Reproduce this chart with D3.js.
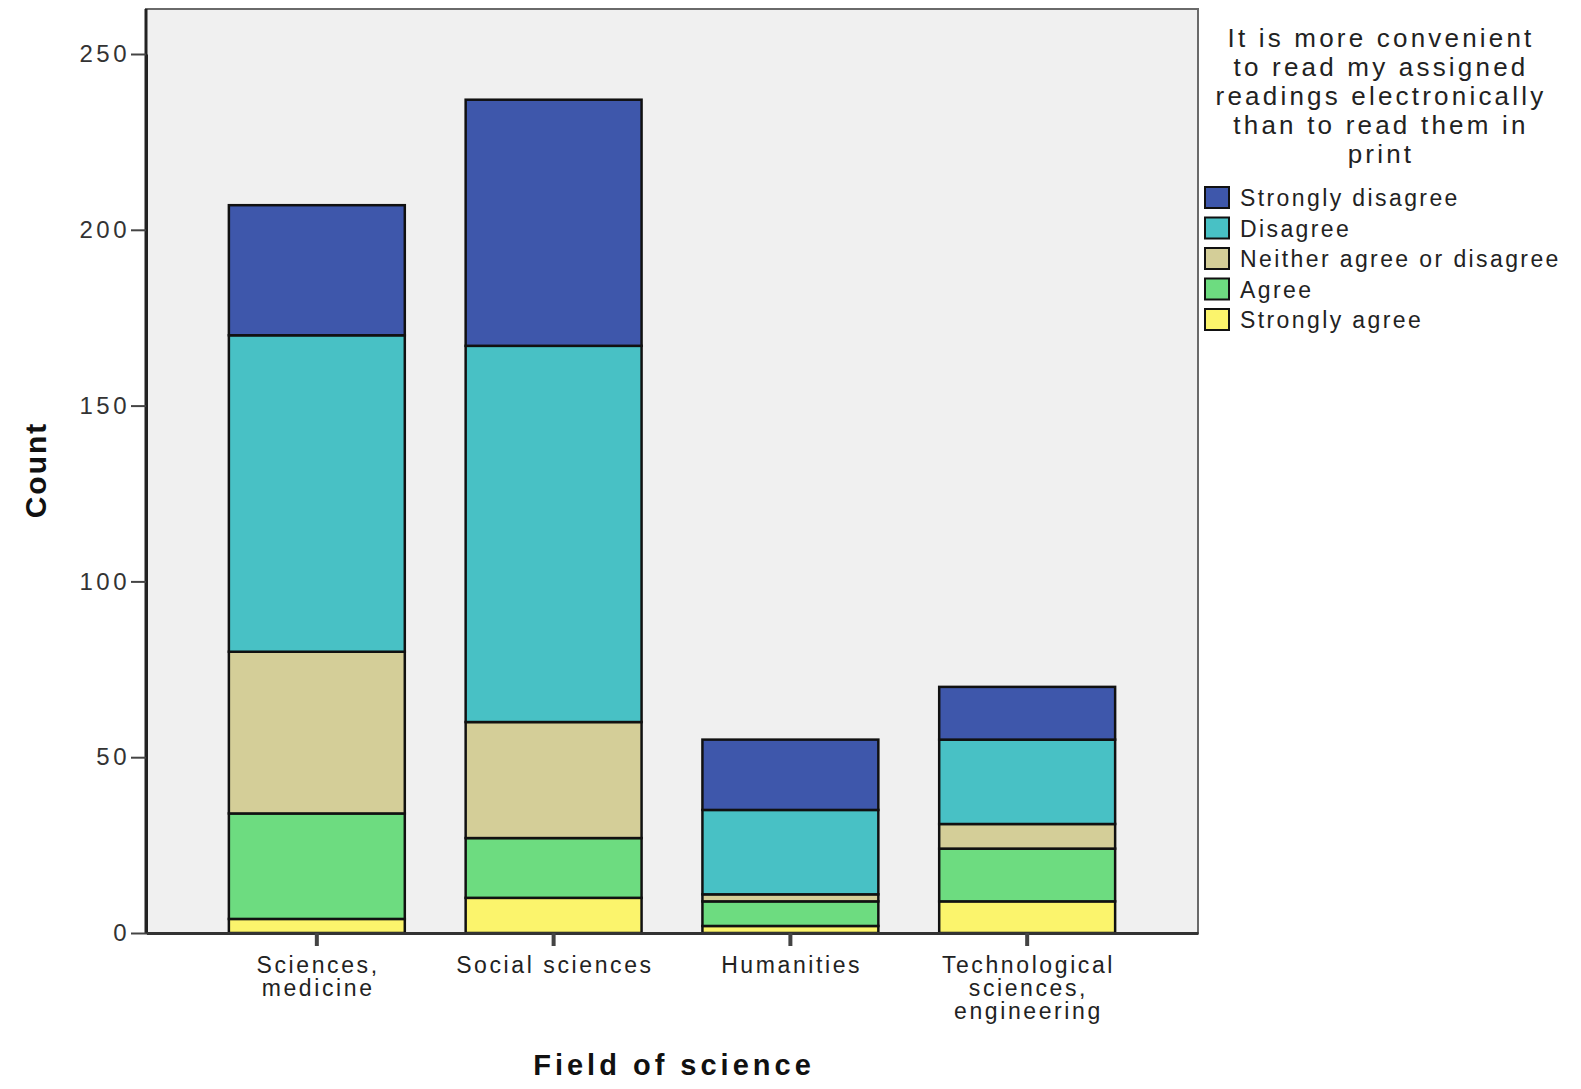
<!DOCTYPE html>
<html>
<head>
<meta charset="utf-8">
<script src="https://cdn.jsdelivr.net/npm/d3@7"></script>
<style>
  body { margin: 0; background: #fff; }
  text { font-family: "Liberation Sans", Arial, sans-serif; }
</style>
</head>
<body>
<div id="chart"></div>
<script>
// Data
var fields = ["Sciences, medicine", "Social sciences", "Humanities", "Technological sciences, engineering"];
var fieldLines = [["Sciences,", "medicine"], ["Social sciences"], ["Humanities"], ["Technological", "sciences,", "engineering"]];
var responses = ["Strongly agree", "Agree", "Neither agree or disagree", "Disagree", "Strongly disagree"];
var stronglyAgree = [4, 10, 2, 9];
var agree = [30, 17, 7, 15];
var neither = [46, 33, 2, 7];
var disagree = [90, 107, 24, 24];
var stronglyDisagree = [37, 70, 20, 15];
var yTicks = [0, 50, 100, 150, 200, 250];
var legendTitle = ["It is more convenient", "to read my assigned", "readings electronically", "than to read them in", "print"];
var legendOrder = ["Strongly disagree", "Disagree", "Neither agree or disagree", "Agree", "Strongly agree"];

var colors = {
  "Strongly agree": "#fbf46c",
  "Agree": "#6ddc80",
  "Neither agree or disagree": "#d4ce98",
  "Disagree": "#48c1c5",
  "Strongly disagree": "#3e57ab"
};

var svgWidth = 1581;
var svgHeight = 1089;

// plot frame
var frame = { left: 146, right: 1198, top: 9, bottom: 933 };

var svg = d3.select("#chart")
  .append("svg")
  .attr("width", svgWidth)
  .attr("height", svgHeight);

// build rows for stacking
var rows = fields.map(function(f, i) {
  return {
    field: f,
    "Strongly agree": stronglyAgree[i],
    "Agree": agree[i],
    "Neither agree or disagree": neither[i],
    "Disagree": disagree[i],
    "Strongly disagree": stronglyDisagree[i]
  };
});

var stacked = d3.stack().keys(responses)(rows);

// scales
var x = d3.scaleBand()
  .domain(fields)
  .range([frame.left, frame.right])
  .paddingInner(0.257)
  .paddingOuter(0.35);

var y = d3.scaleLinear()
  .domain([0, 250])
  .range([frame.bottom, 54]);

// plot background with gray top/right border
svg.append("rect")
  .attr("x", frame.left)
  .attr("y", frame.top)
  .attr("width", frame.right - frame.left)
  .attr("height", frame.bottom - frame.top)
  .attr("fill", "#f0f0f0")
  .attr("stroke", "#6a6a6a")
  .attr("stroke-width", 2);

// dark left edge up to the top of the frame
svg.append("line")
  .attr("x1", frame.left).attr("x2", frame.left)
  .attr("y1", frame.top).attr("y2", frame.bottom)
  .attr("stroke", "#222")
  .attr("stroke-width", 3);

// bars
svg.append("g")
  .selectAll("g")
  .data(stacked)
  .enter()
  .append("g")
  .attr("fill", d => colors[d.key])
  .selectAll("rect")
  .data(d => d)
  .enter()
  .append("rect")
  .attr("x", d => x(d.data.field))
  .attr("width", x.bandwidth())
  .attr("y", d => y(d[1]))
  .attr("height", d => y(d[0]) - y(d[1]))
  .attr("stroke", "#111")
  .attr("stroke-width", 2.5);

// y axis
var leftAxis = d3.axisLeft(y)
  .tickValues(yTicks)
  .tickSize(15)
  .tickSizeOuter(0)
  .tickPadding(1);

var yAxis = svg.append("g")
  .attr("transform", `translate(${frame.left}, 0)`)
  .call(leftAxis);
yAxis.select(".domain").attr("stroke", "#222").attr("stroke-width", 3);
yAxis.selectAll(".tick line").attr("stroke", "#444").attr("stroke-width", 2);
yAxis.selectAll(".tick text")
  .attr("font-size", 24)
  .attr("fill", "#333")
  .attr("letter-spacing", 3.5)
  .attr("font-family", "Liberation Sans, Arial, sans-serif");

// x axis
var bottomAxis = d3.axisBottom(x)
  .tickSize(13)
  .tickSizeOuter(0)
  .tickFormat("");

var xAxis = svg.append("g")
  .attr("transform", `translate(0, ${frame.bottom})`)
  .call(bottomAxis);
xAxis.select(".domain").attr("stroke", "#333").attr("stroke-width", 3);
xAxis.selectAll(".tick line").attr("stroke", "#444").attr("stroke-width", 4);

// category labels (multi-line)
svg.append("g")
  .selectAll("text")
  .data(fields)
  .enter()
  .append("text")
  .attr("x", d => x(d) + x.bandwidth() / 2 + 1.3)
  .attr("y", 973)
  .attr("text-anchor", "middle")
  .attr("font-size", 23)
  .attr("fill", "#222")
  .attr("letter-spacing", 2.6)
  .selectAll("tspan")
  .data((d, i) => fieldLines[i])
  .enter()
  .append("tspan")
  .attr("x", function() { return this.parentNode.getAttribute("x"); })
  .attr("dy", (d, i) => i === 0 ? 0 : 23)
  .text(d => d);

// axis titles
svg.append("text")
  .attr("transform", `translate(46, 470) rotate(-90)`)
  .attr("text-anchor", "middle")
  .attr("font-size", 30)
  .attr("font-weight", "bold")
  .attr("letter-spacing", 2)
  .attr("fill", "#111")
  .text("Count");

svg.append("text")
  .attr("x", 674)
  .attr("y", 1075)
  .attr("text-anchor", "middle")
  .attr("font-size", 29)
  .attr("font-weight", "bold")
  .attr("letter-spacing", 4)
  .attr("fill", "#111")
  .text("Field of science");

// legend
var legend = svg.append("g");

legend.selectAll("text.title")
  .data(legendTitle)
  .enter()
  .append("text")
  .attr("class", "title")
  .attr("x", 1381)
  .attr("y", (d, i) => 47 + i * 29)
  .attr("text-anchor", "middle")
  .attr("font-size", 26)
  .attr("letter-spacing", 3.2)
  .attr("fill", "#222")
  .text(d => d);

var items = legend.selectAll("g.item")
  .data(legendOrder)
  .enter()
  .append("g")
  .attr("class", "item")
  .attr("transform", (d, i) => `translate(1205, ${187 + i * 30.5})`);

items.append("rect")
  .attr("width", 24)
  .attr("height", 21)
  .attr("fill", d => colors[d])
  .attr("stroke", "#111")
  .attr("stroke-width", 2);

items.append("text")
  .attr("x", 35)
  .attr("y", 19)
  .attr("font-size", 23)
  .attr("letter-spacing", 2.4)
  .attr("fill", "#222")
  .text(d => d);
</script>
</body>
</html>
